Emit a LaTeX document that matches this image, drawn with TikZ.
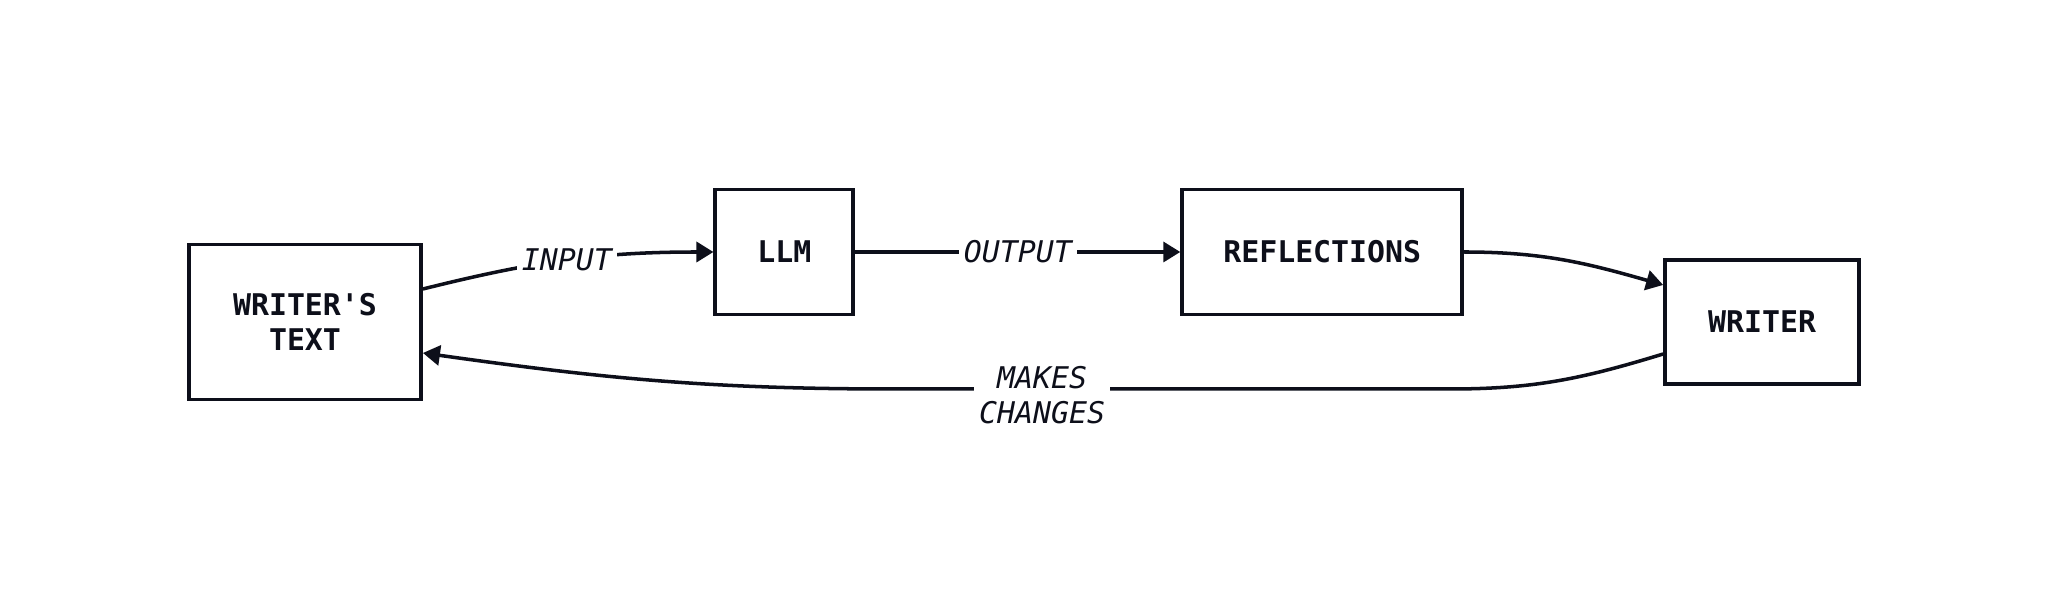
\documentclass[tikz,border=0pt]{standalone}
\usepackage{fontspec}
\setmonofont{DejaVu Sans Mono}
\usepackage{tikz}
\usetikzlibrary{arrows.meta, positioning}
\usepackage{xcolor}
\definecolor{ink}{HTML}{0D0F1A}

\begin{document}
\begin{tikzpicture}[
        box/.style={rectangle, text centered, draw=ink, line width=1.1pt, fill=white, align=center, text=ink, font=\ttfamily\bfseries\fontsize{8.5}{10}\selectfont},
        edgelabel/.style={fill=white, inner sep=1.5pt, align=center, text=ink, font=\ttfamily\itshape\fontsize{8.5}{10}\selectfont},
        arrow/.style={draw=ink, line width=1pt, -{Triangle[length=0.17cm, width=0.2cm]}}
    ]
        \useasboundingbox (0,0) rectangle (20.48,6.15);

        % Nodes
        \node (wtext) [box, minimum width=2.32cm, minimum height=1.55cm] at (3.05,2.93) {WRITER'S\\TEXT};
        \node (llm) [box, minimum width=1.38cm, minimum height=1.25cm, right=2.905cm of wtext, yshift=0.7cm] {LLM};
        \node (refl) [box, minimum width=2.80cm, minimum height=1.25cm, right=3.25cm of llm] {REFLECTIONS};
        \node (writer) [box, minimum width=1.94cm, minimum height=1.24cm, right=1.99cm of refl, yshift=-0.7cm] {WRITER};

        % Return path
        \coordinate (backright) at (14.50,2.26);
        \coordinate (backleft) at (8.95,2.26);

        % Arrows
        \draw [arrow] ([yshift=0.33cm]wtext.east) to[out=14, in=180] node[edgelabel, pos=0.5] {INPUT} (llm.west);
        \draw [arrow] (llm.east) -- node[edgelabel] {OUTPUT} (refl.west);
        \draw [arrow] (refl.east) to[out=0, in=164] ([yshift=0.37cm]writer.west);
        \draw [arrow] ([yshift=-0.32cm]writer.west) to[out=197, in=0] (backright) -- node[edgelabel, pos=0.735, yshift=-0.06cm] {MAKES\\CHANGES} (backleft) to[out=180, in=-8] ([yshift=-0.31cm]wtext.east);

    \end{tikzpicture}
\end{document}
